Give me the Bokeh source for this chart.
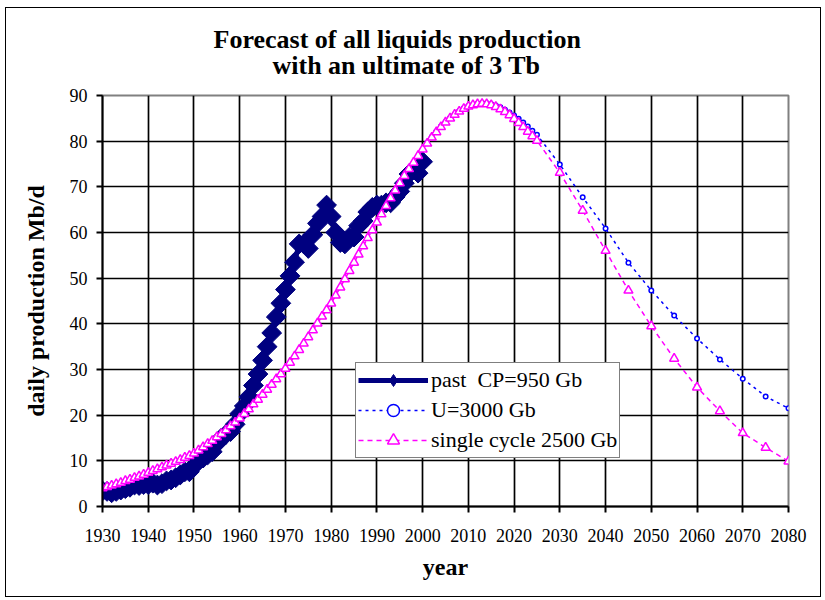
import math
from bokeh.plotting import figure
from bokeh.models import Range1d, FixedTicker, Legend, LegendItem, Title
from bokeh.embed import file_html
from bokeh.resources import INLINE

# ---- data ----
past_years = list(range(1930, 2001))
past_values = [3.4, 3.3, 3.0, 3.3, 3.6, 3.9, 4.2, 4.7, 4.6, 4.8,
               4.8, 5.1, 4.7, 5.0, 5.6, 5.8, 6.3, 6.9, 7.6, 7.6,
               8.9, 10.0, 10.6, 11.3, 12.0, 13.8, 15.0, 15.8, 16.4, 18.0,
               20.3, 22.0, 24.0, 26.5, 29.0, 32.0, 35.0, 38.0, 41.5, 44.5,
               47.5, 50.5, 53.5, 57.5, 57.5, 56.5, 59.5, 62.0, 63.5, 66.0,
               63.5, 60.0, 57.8, 57.5, 59.0, 59.0, 61.5, 62.5, 64.5, 65.5,
               66.0, 66.0, 66.5, 66.5, 67.8, 69.0, 70.8, 72.8, 73.8, 73.0,
               75.5]

u3000_years = list(range(2001, 2026)) + [2030, 2035, 2040, 2045, 2050, 2055, 2060, 2065, 2070, 2075, 2080]
u3000_values = [79.6, 80.9, 82.1, 83.2, 84.2, 85.1, 85.9, 86.6, 87.2, 87.7,
                88.0, 88.2, 88.3, 88.3, 88.1, 87.8, 87.4, 86.9, 86.3, 85.6,
                84.9, 84.1, 83.2, 82.3, 81.4,
                74.9, 67.7, 60.9, 53.4, 47.3, 41.8, 36.8, 32.2, 28.0, 24.1, 21.5]

single_years = list(range(1930, 2026)) + [2030, 2035, 2040, 2045, 2050, 2055, 2060, 2065, 2070, 2075, 2080]
single_values = [4.0, 4.3, 4.6, 4.9, 5.2, 5.6, 5.9, 6.3, 6.6, 7.0,
                 7.4, 7.8, 8.2, 8.6, 9.0, 9.4, 9.8, 10.2, 10.7, 11.1,
                 11.6, 12.3, 13.0, 13.7, 14.4, 15.2, 15.9, 16.7, 17.6, 18.4,
                 19.3, 20.3, 21.3, 22.4, 23.4, 24.5, 25.6, 26.7, 27.9, 29.0,
                 30.2, 31.5, 32.9, 34.3, 35.7, 37.1, 38.6, 40.1, 41.6, 43.0,
                 44.5, 46.2, 48.0, 49.8, 51.6, 53.4, 55.2, 57.0, 58.8, 60.5,
                 62.2, 64.0, 65.8, 67.5, 69.2, 70.8, 72.4, 73.9, 75.3, 76.8,
                 78.2, 79.5, 80.8, 82.0, 83.1, 84.1, 85.0, 85.8, 86.5, 87.1,
                 87.6, 87.9, 88.1, 88.2, 88.1, 87.9, 87.5, 87.0, 86.4, 85.7,
                 84.9, 84.0, 83.1, 82.1, 81.1, 80.1,
                 73.1, 64.8, 56.0, 47.3, 39.5, 32.4, 26.1, 20.9, 16.1, 12.9, 9.9]

x_ticks = list(range(1930, 2081, 10))
y_ticks = list(range(0, 91, 10))

title_line1 = "Forecast of all liquids production"
title_line2 = "with an ultimate of 3 Tb"
x_label = "year"
y_label = "daily production Mb/d"
legend_labels = ["past  CP=950 Gb", "U=3000 Gb", "single cycle 2500 Gb"]

SERIF = "Liberation Serif"

p = figure(width=816, height=590, output_backend="svg", toolbar_location=None,
           x_range=Range1d(1930, 2080), y_range=Range1d(0, 90),
           min_border_left=96, min_border_right=34, min_border_top=87, min_border_bottom=92)
p.styles = {"border": "1px solid black", "margin-left": "5px", "margin-top": "7px"}
p.background_fill_color = "white"
p.border_fill_color = "white"
p.outline_line_color = "#808080"
p.outline_line_width = 2

# two-line title (the later-added title sits further from the frame)
t2 = Title(text=title_line2, align="left", offset=170, text_font=SERIF,
           text_font_size="26px", text_font_style="bold", text_color="black", standoff=32)
t1 = Title(text=title_line1, align="left", offset=111, text_font=SERIF,
           text_font_size="26px", text_font_style="bold", text_color="black", standoff=-42)
p.add_layout(t2, "above")
p.add_layout(t1, "above")

for ax in (p.xaxis[0], p.yaxis[0]):
    ax.axis_line_color = "black"
    ax.axis_line_width = 2
    ax.major_tick_line_color = "black"
    ax.major_tick_line_width = 2
    ax.major_tick_in = 0
    ax.major_tick_out = 6
    ax.minor_tick_line_color = None
    ax.major_label_text_font = SERIF
    ax.major_label_text_font_size = "18px"
    ax.major_label_text_color = "black"
    ax.axis_label_text_font = SERIF
    ax.axis_label_text_font_size = "24px"
    ax.axis_label_text_font_style = "bold"
    ax.axis_label_text_color = "black"

p.xaxis[0].ticker = FixedTicker(ticks=x_ticks)
p.yaxis[0].ticker = FixedTicker(ticks=y_ticks)
p.xaxis[0].axis_label = x_label
p.yaxis[0].axis_label = y_label
p.xaxis[0].major_label_standoff = 16
p.yaxis[0].major_label_standoff = 9
p.xaxis[0].axis_label_standoff = 9
p.yaxis[0].axis_label_standoff = 18

for g in (p.xgrid[0], p.ygrid[0]):
    g.grid_line_color = "black"
    g.grid_line_width = 1.7
p.xgrid[0].ticker = FixedTicker(ticks=x_ticks)
p.ygrid[0].ticker = FixedTicker(ticks=y_ticks)

# past
r1l = p.line(past_years, past_values, line_color="#000080", line_width=5)
r1m = p.scatter(past_years, past_values, marker="square", size=14, angle=math.pi / 4,
                fill_color="#000080", line_color="#000080")
# legend proxy drawn on the first past point (legend ignores marker angle)
r1k = p.scatter(past_years[:1], past_values[:1], marker="diamond", size=17,
                fill_color="#000080", line_color="#000080")
# U=3000
r2l = p.line(u3000_years, u3000_values, line_color="#0000FF", line_width=1.5, line_dash="3 4")
r2m = p.scatter(u3000_years, u3000_values, marker="circle", size=4.5,
                fill_color="white", line_color="#0000FF", line_width=1.5)
# single cycle
r3l = p.line(single_years, single_values, line_color="#FF00FF", line_width=1.5, line_dash="5 4")
r3m = p.scatter(single_years, single_values, marker="triangle", size=9,
                fill_color="white", line_color="#FF00FF", line_width=1.5)

legend = Legend(items=[LegendItem(label=legend_labels[0], renderers=[r1l, r1k]),
                       LegendItem(label=legend_labels[1], renderers=[r2l, r2m]),
                       LegendItem(label=legend_labels[2], renderers=[r3l, r3m])],
                location=(253, 48))
legend.label_text_font = SERIF
legend.label_text_font_size = "22px"
legend.label_text_color = "black"
legend.glyph_width = 70
legend.glyph_height = 30
legend.label_height = 26
legend.label_standoff = 3
legend.spacing = -1
legend.padding = 2
legend.margin = 0
legend.border_line_color = "black"
legend.border_line_width = 1.5
legend.background_fill_color = "white"
legend.background_fill_alpha = 1.0
p.add_layout(legend, "center")

open("out.html", "w").write(file_html(p, INLINE))
